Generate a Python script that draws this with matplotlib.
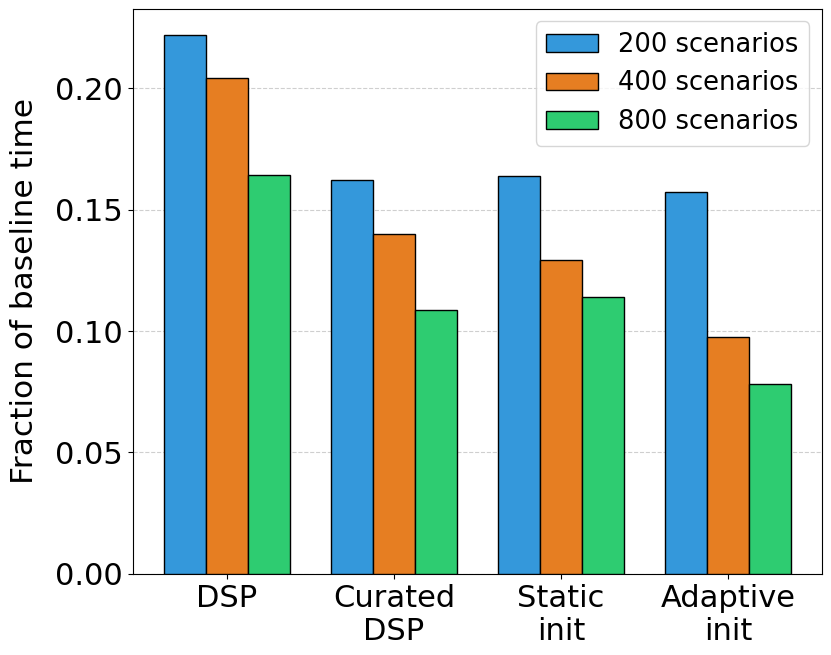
import numpy as np
import matplotlib.pyplot as plt

categories = ["DSP", "Curated\nDSP", "Static\ninit", "Adaptive\ninit"]
series_names = ["200 scenarios", "400 scenarios", "800 scenarios"]
vals_200 = [0.2218, 0.1621, 0.1638, 0.1572]
vals_400 = [0.2041, 0.1399, 0.1292, 0.0975]
vals_800 = [0.1642, 0.1086, 0.1140, 0.0782]
colors = ["#3498db", "#e67e22", "#2ecc71"]

fig, ax = plt.subplots(figsize=(8.31, 6.55), dpi=100)
fig.subplots_adjust(left=0.160, right=0.989, top=0.987, bottom=0.124)

x = np.arange(len(categories))
w = 0.25
for i, (vals, name) in enumerate(zip([vals_200, vals_400, vals_800], series_names)):
    ax.bar(x + (i - 1) * w, vals, w, label=name, color=colors[i],
           edgecolor="black", linewidth=1.0, zorder=3)

ax.set_xticks(x)
ax.set_xticklabels(categories, fontsize=22)
ax.tick_params(axis="y", labelsize=22)
ax.set_ylabel("Fraction of baseline time", fontsize=22.5, labelpad=12)
ax.yaxis.set_major_formatter(plt.FormatStrFormatter("%.2f"))
ax.grid(axis="y", linestyle="--", alpha=0.6, zorder=0)
ax.legend(fontsize=18.5, loc="upper right")

fig.savefig("out.png")
